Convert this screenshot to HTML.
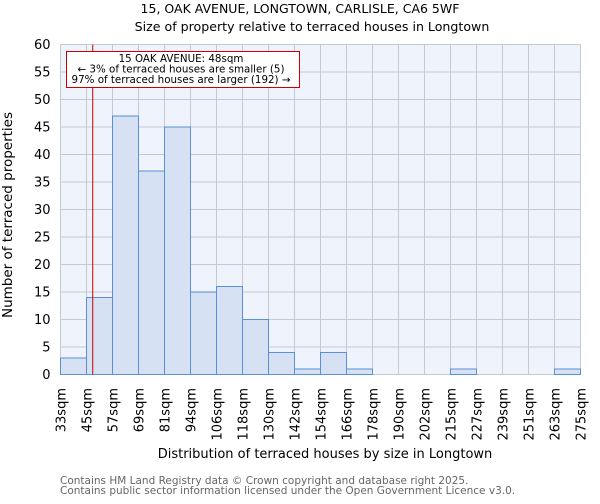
<!DOCTYPE html>
<html><head><meta charset="utf-8"><style>
body{margin:0;background:#fff;font-family:"DejaVu Sans","Liberation Sans",sans-serif}
</style></head><body>
<svg id="c" width="600" height="500" xmlns="http://www.w3.org/2000/svg" font-family="DejaVu Sans, Liberation Sans, sans-serif">
<text x="300" y="13" text-anchor="middle" font-size="12.5">15, OAK AVENUE, LONGTOWN, CARLISLE, CA6 5WF</text>
<text x="312" y="31" text-anchor="middle" font-size="12.6">Size of property relative to terraced houses in Longtown</text>
<rect x="60.5" y="44.5" width="520" height="330" fill="#eef3fc"/>
<g id="grid"></g><g id="bars"></g><g id="axes"></g>
<text x="325" y="458" text-anchor="middle" font-size="13">Distribution of terraced houses by size in Longtown</text>
<text transform="translate(12,215) rotate(-90)" text-anchor="middle" font-size="13.5">Number of terraced properties</text>
<text x="60" y="484" font-size="10.5" fill="#666">Contains HM Land Registry data © Crown copyright and database right 2025.</text>
<text x="60" y="494" font-size="10.5" fill="#666">Contains public sector information licensed under the Open Government Licence v3.0.</text>
</svg>
<script>
const labels=["33sqm","45sqm","57sqm","69sqm","81sqm","94sqm","106sqm","118sqm","130sqm","142sqm","154sqm","166sqm","178sqm","190sqm","202sqm","215sqm","227sqm","239sqm","251sqm","263sqm","275sqm"];
const counts=[3,14,47,37,45,15,16,10,4,1,4,1,0,0,0,1,0,0,0,1];
const yTicks=[0,5,10,15,20,25,30,35,40,45,50,55,60];
const propertySize=48;
const NS="http://www.w3.org/2000/svg";
const X0=60.5,BW=26,Y0=374.5,H=330,YMAX=60;
const y=v=>Y0-v/YMAX*H;
const xi=i=>X0+i*BW;
function mk(t,a,p){const e=document.createElementNS(NS,t);for(const k in a)e.setAttribute(k,a[k]);p.appendChild(e);return e;}
const g=document.getElementById('grid'),b=document.getElementById('bars'),ax=document.getElementById('axes');
yTicks.forEach(v=>{
 const l=mk('line',{x1:X0,x2:X0+counts.length*BW,y1:y(v),y2:y(v),stroke:'#c8c8d0','stroke-width':1},g);
 
 
 const t=mk('text',{x:X0-10,y:y(v)+4.5,'text-anchor':'end','font-size':13},ax);t.textContent=v;
 
 
});
labels.forEach((s,i)=>{
 const l=mk('line',{x1:xi(i),x2:xi(i),y1:Y0-H,y2:Y0,stroke:'#c8c8d0','stroke-width':1},g);
 
 
 const t=mk('text',{transform:`translate(${xi(i)+5},388) rotate(-90)`,'text-anchor':'end','font-size':13},ax);t.textContent=s;
 
 
});
counts.forEach((c,i)=>{
 if(c<=0)return;
 const r=mk('rect',{x:xi(i),y:y(c),width:BW,height:Y0-y(c),fill:'#d6e1f3',stroke:'#5b8fd6','stroke-width':1},b);
 
 
});
const step=(275-33)/20;
const mx=X0+(propertySize-33)/step*BW;
const ml=mk('line',{x1:mx,x2:mx,y1:Y0-H,y2:Y0,stroke:'#cc0000','stroke-width':1},b);


const box=mk('g',{},b);


mk('rect',{x:66.5,y:51.5,width:233,height:36,fill:'#fff',stroke:'#cc0000','stroke-width':1},box);
["15 OAK AVENUE: 48sqm","← 3% of terraced houses are smaller (5)","97% of terraced houses are larger (192) →"].forEach((s,i)=>{
 const t=mk('text',{x:181,y:62+i*10.5,'text-anchor':'middle','font-size':10.3},box);t.textContent=s;
});
</script>
</body></html>
